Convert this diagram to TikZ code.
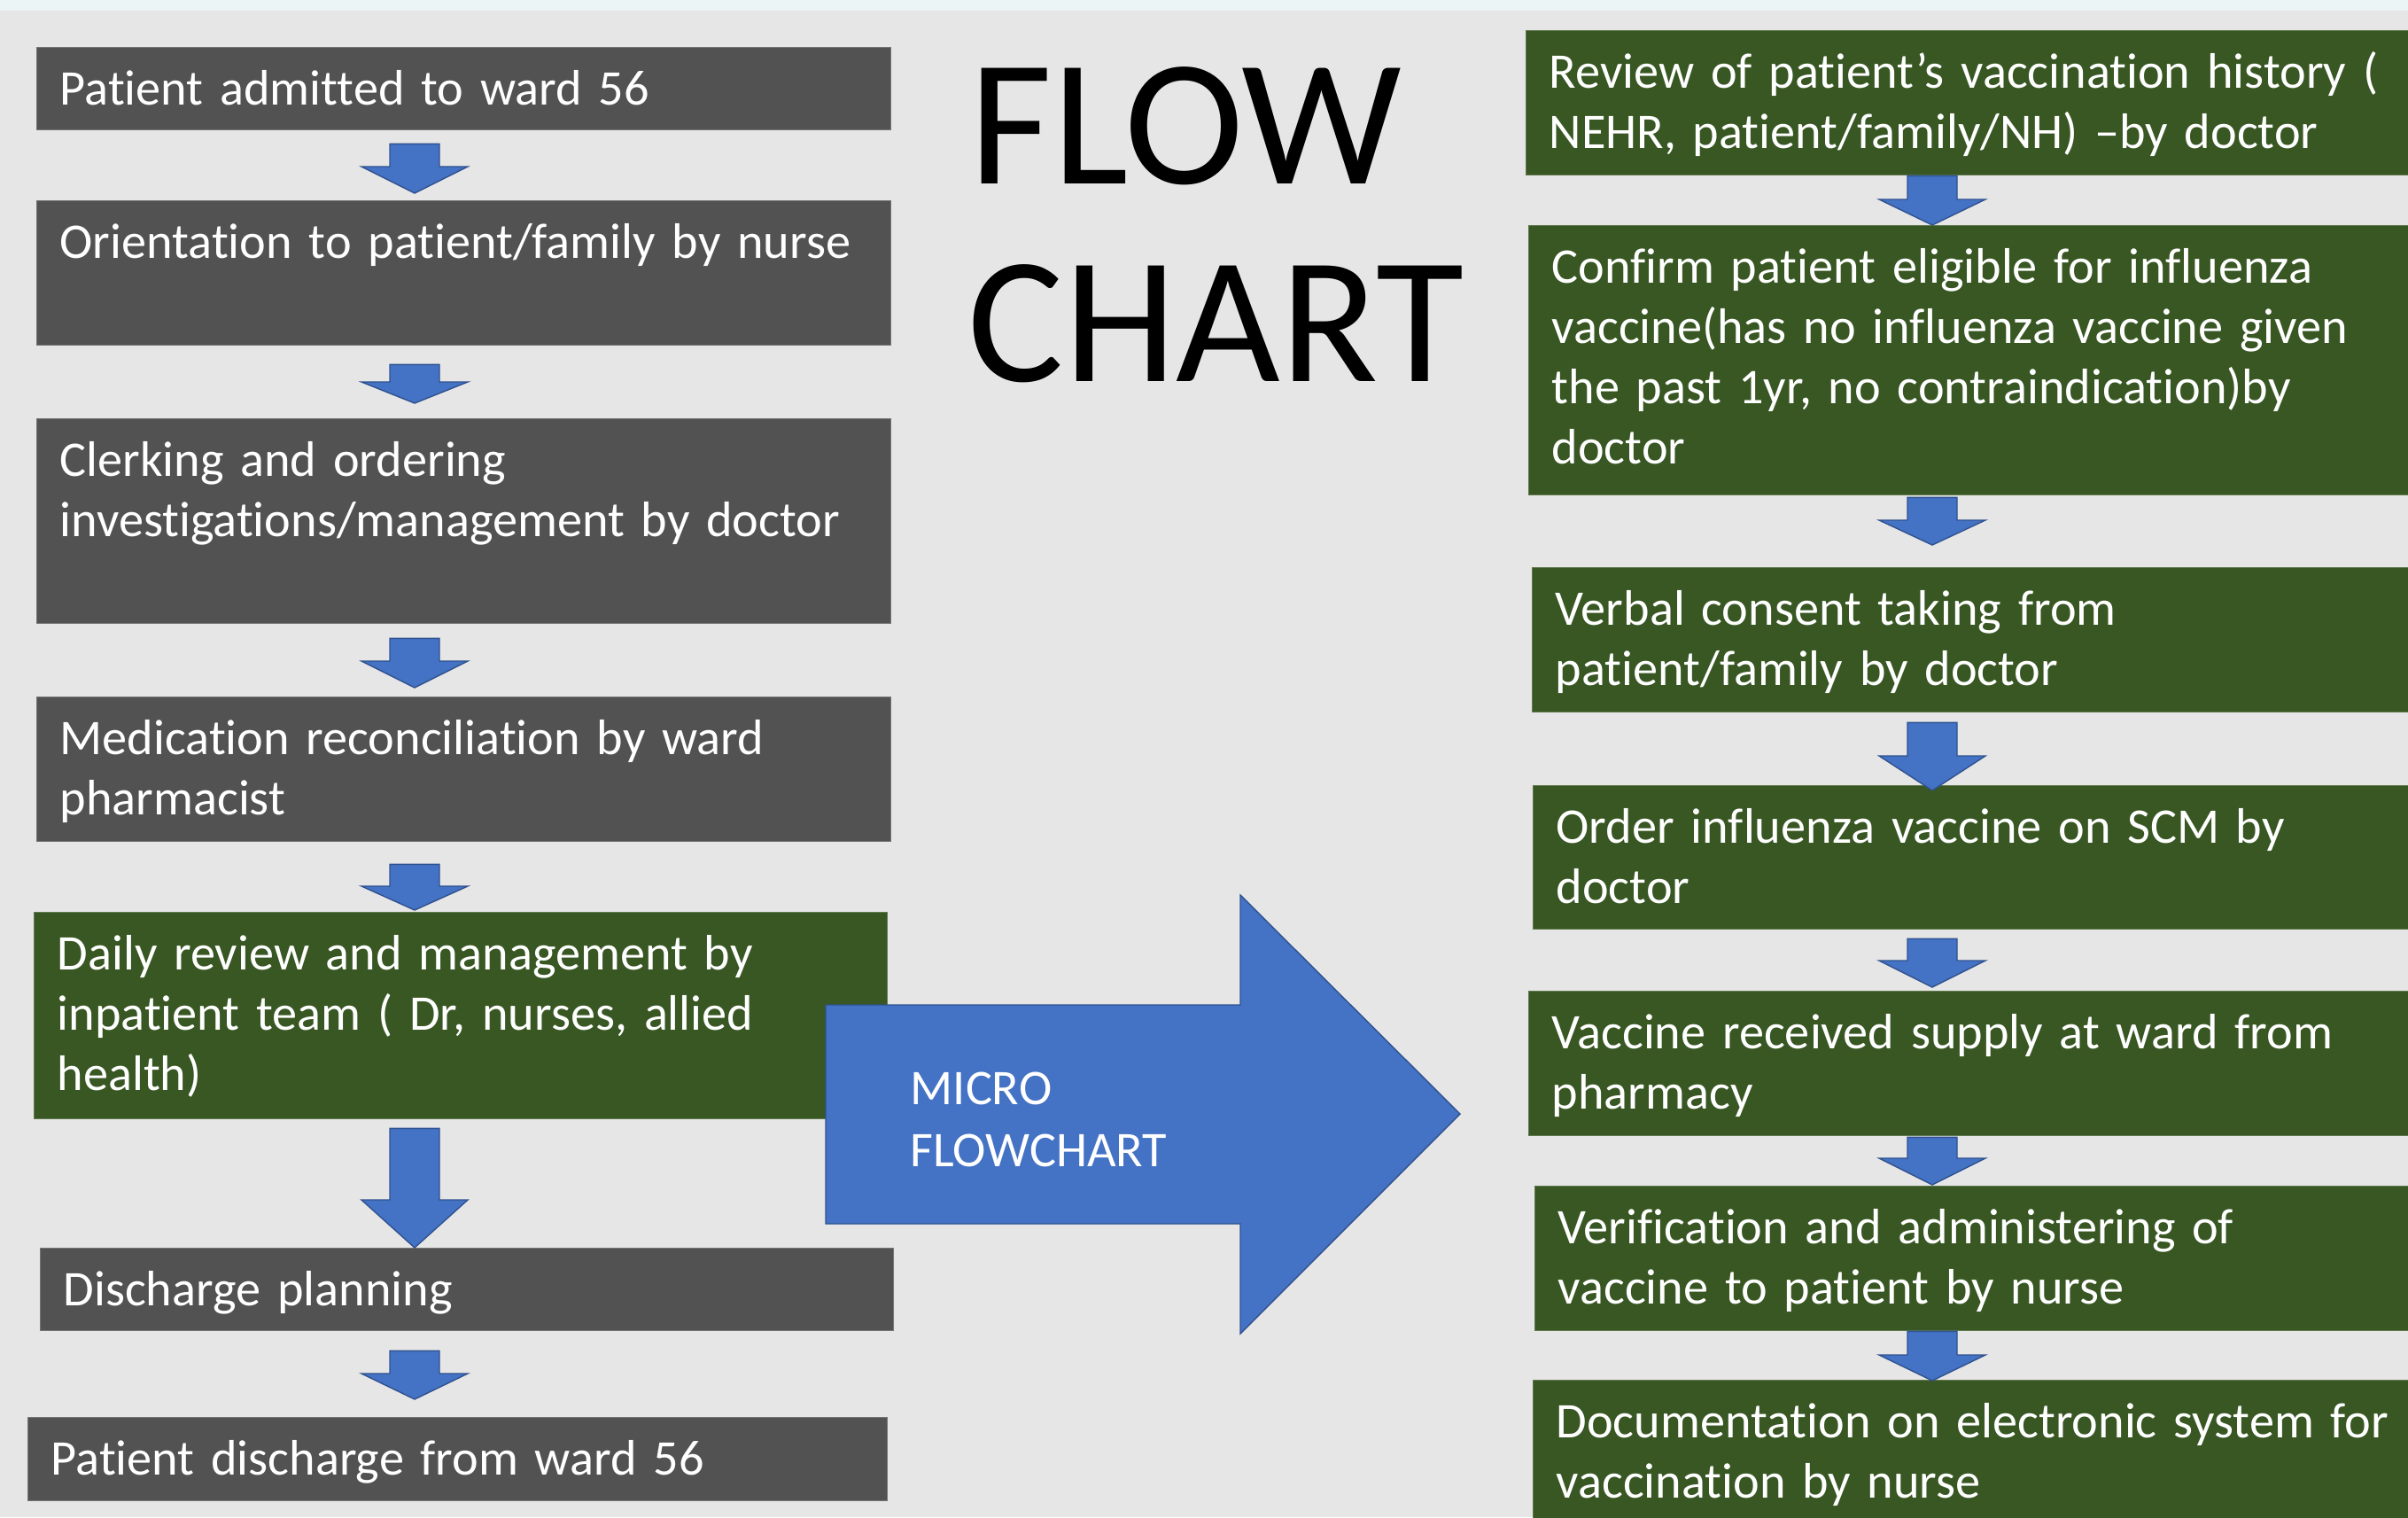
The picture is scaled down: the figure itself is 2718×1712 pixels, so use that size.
\documentclass[tikz,border=0pt]{standalone}
\usepackage{fontspec}
\setmainfont{Carlito}[Ligatures=NoCommon]
\usetikzlibrary{calc,positioning}
\definecolor{slidebg}{HTML}{E7E6E6}
\definecolor{topband}{HTML}{EBF5F5}
\definecolor{boxgray}{HTML}{525252}
\definecolor{boxgreen}{HTML}{385723}
\definecolor{arrowblue}{HTML}{4472C4}
\definecolor{arrowedge}{HTML}{2F528F}
\newlength{\px}\setlength{\px}{0.01cm}
\newcommand{\firstline}{\rule{0pt}{65\px}}
% block arrow from one box down to the next: column, from, to, top gap, tip gap, head length
\newcommand{\flowarrow}[6]{%
  \path ($(#2.south -| #1)+(0,#4)$) coordinate (as) ($(#3.north -| #1)+(0,{-(#5)})$) coordinate (at);
  \draw[blockarrow] ($(as)+(-28,0)$) -- ($(as)+(28,0)$) -- ($(at)+(28,{-(#6)})$) -- ($(at)+(60,{-(#6)})$)
    -- (at) -- ($(at)+(-60,{-(#6)})$) -- ($(at)+(-28,{-(#6)})$) -- cycle;}
\tikzset{
  flowbox/.style={fill=#1, draw=#1!80!white, line width=0.4pt, inner sep=0pt, anchor=north west},
  boxtext/.style={anchor=north west, text=white, inner xsep=26\px, inner ysep=0pt, align=left,
    text width=1200\px, font=\fontsize{16pt}{19.35pt}\selectfont},
  boxlabel/.style={label={[boxtext]north west:{\firstline #1}}},
  blockarrow/.style={fill=arrowblue, draw=arrowedge, line width=0.4pt},
  title/.style={anchor=base west, inner sep=0pt, font=\fontsize{57.8pt}{63.5pt}\selectfont},
}
\begin{document}
\begin{tikzpicture}[x=0.01cm, y=-0.01cm]
  \useasboundingbox (0,0) rectangle (2718,1712);
  \clip (0,0) rectangle (2718,1712);
  \fill[slidebg] (0,0) rectangle (2718,1712);
  \fill[topband] (0,0) rectangle (2718,12);
  \coordinate (lcol) at (468,0);
  \coordinate (rcol) at (2181,0);

  % ward flow
  \node[flowbox=boxgray, minimum width=964\px, minimum height=93\px,
    boxlabel={Patient admitted to ward 56}] (admit) at (41,53) {};
  \node[flowbox=boxgray, minimum width=964\px, minimum height=163\px,
    boxlabel={Orientation to patient/family by nurse}] (orient) at (41,226) {};
  \node[flowbox=boxgray, minimum width=964\px, minimum height=231\px,
    boxlabel={Clerking and ordering\\investigations/management by doctor}] (clerk) at (41,472) {};
  \node[flowbox=boxgray, minimum width=964\px, minimum height=163\px,
    boxlabel={Medication reconciliation by ward\\pharmacist}] (medrec) at (41,786) {};
  \node[flowbox=boxgreen, minimum width=963\px, minimum height=233\px,
    boxlabel={Daily review and management by\\inpatient team ( Dr, nurses, allied\\health)}] (daily) at (38,1029) {};
  \node[flowbox=boxgray, minimum width=963\px, minimum height=93\px,
    boxlabel={Discharge planning}] (dplan) at (45,1408) {};
  \node[flowbox=boxgray, minimum width=970\px, minimum height=94\px,
    boxlabel={Patient discharge from ward 56}] (dischg) at (31,1599) {};

  \flowarrow{lcol}{admit}{orient}{15}{8}{30}
  \flowarrow{lcol}{orient}{clerk}{21}{17}{24}
  \flowarrow{lcol}{clerk}{medrec}{16}{10}{30}
  \flowarrow{lcol}{medrec}{daily}{25}{2}{27}
  \flowarrow{lcol}{daily}{dplan}{10}{0}{54}
  \flowarrow{lcol}{dplan}{dischg}{22}{20}{29}

  % vaccination flow
  \node[flowbox=boxgreen, minimum width=1020\px, minimum height=163\px,
    boxlabel={Review of patient’s vaccination history (\\NEHR, patient/family/NH) –by doctor}] (review) at (1722,34) {};
  \node[flowbox=boxgreen, minimum width=1020\px, minimum height=304\px,
    boxlabel={Confirm patient eligible for influenza\\vaccine(has no influenza vaccine given\\the past 1yr, no contraindication)by\\doctor}] (eligible) at (1725,254) {};
  \node[flowbox=boxgreen, minimum width=1020\px, minimum height=163\px,
    boxlabel={Verbal consent taking from\\patient/family by doctor}] (consent) at (1729,640) {};
  \node[flowbox=boxgreen, minimum width=1020\px, minimum height=162\px,
    boxlabel={Order influenza vaccine on SCM by\\doctor}] (order) at (1730,886) {};
  \node[flowbox=boxgreen, minimum width=1020\px, minimum height=163\px,
    boxlabel={Vaccine received supply at ward from\\pharmacy}] (supply) at (1725,1118) {};
  \node[flowbox=boxgreen, minimum width=1020\px, minimum height=163\px,
    boxlabel={Verification and administering of\\vaccine to patient by nurse}] (verify) at (1732,1338) {};
  \node[flowbox=boxgreen, minimum width=1020\px, minimum height=200\px,
    boxlabel={Documentation on electronic system for\\vaccination by nurse}] (document) at (1730,1557) {};

  \flowarrow{rcol}{review}{eligible}{0}{0}{29}
  \flowarrow{rcol}{eligible}{consent}{2}{25}{28}
  \flowarrow{rcol}{consent}{order}{11}{-6}{39}
  \flowarrow{rcol}{order}{supply}{10}{4}{30}
  \flowarrow{rcol}{supply}{verify}{1}{1}{30}
  \flowarrow{rcol}{verify}{document}{0}{-1}{29}

  % big arrow and titles
  \draw[blockarrow] (932,1134) -- (1400,1134) -- (1400,1010) -- (1648,1257)
    -- (1400,1505) -- (1400,1381) -- (932,1381) -- cycle;
  \node[boxtext, inner xsep=0pt, font=\fontsize{16pt}{19.9pt}\selectfont] (micro) at (1027,1181) {\firstline MICRO\\FLOWCHART};
  \node[title] (flow) at (1094,207) {FLOW};
  \node[title] (chart) at (1092,430) {CHART};
\end{tikzpicture}
\end{document}
